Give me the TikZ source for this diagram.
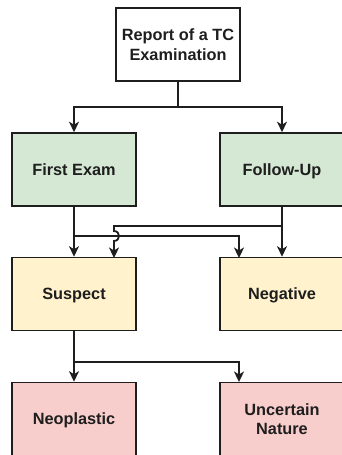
\documentclass[tikz,border=0pt]{standalone}
\usepackage{fontspec}
\setmainfont{Liberation Sans}
\usetikzlibrary{arrows.meta}
\definecolor{stepgreen}{HTML}{D5E8D4}
\definecolor{stepyellow}{HTML}{FFF2CC}
\definecolor{stepred}{HTML}{F8CECC}
\definecolor{ink}{HTML}{1E1E1E}
\begin{document}
\begin{tikzpicture}[x=1pt,y=-1pt,
  box/.style={draw=ink, line width=1.6pt, minimum width=124pt, minimum height=73pt,
    inner sep=0pt, align=center, text=ink,
    font=\fontsize{16.3}{19.5}\selectfont\bfseries},
  oneline/.style={text height=11.7pt, text depth=0pt},
  conn/.style={draw=ink, line width=1.8pt, -{Stealth[length=10.5pt,width=10pt,inset=3pt]}},
  plain/.style={draw=ink, line width=1.8pt}]
\useasboundingbox (0,0) rectangle (342,455);
% boxes
\node[box, fill=white]               (top) at (178,44.5)  {Report of a TC\\Examination};
\node[box, oneline, fill=stepgreen]  (fe)  at (74,169.5)  {First Exam};
\node[box, oneline, fill=stepgreen]  (fu)  at (282,169.5) {Follow-Up};
\node[box, oneline, fill=stepyellow] (sus) at (74,294)    {Suspect};
\node[box, oneline, fill=stepyellow] (neg) at (282,294)   {Negative};
\node[box, oneline, fill=stepred]    (neo) at (74,419)    {Neoplastic};
\node[box, fill=stepred]             (unc) at (282,419)   {Uncertain\\Nature};
% junction and entry points
\coordinate (split)  at (178,107);
\coordinate (negin)  at (239,258);
\coordinate (susin)  at (114,258);
\coordinate (uncin)  at (239,382);
\coordinate (hopa)   at (114,231);
\coordinate (hopb)   at (114,241);
% report splits into first exam and follow-up
\draw[plain] (top.south) -- (split);
\draw[conn] (split) -| (fe.north);
\draw[conn] (split) -| (fu.north);
% first exam leads to suspect or negative
\draw[conn] (fe.south) -- (sus.north);
\draw[conn] (fe.south) |- (74,236) -| (negin);
% follow-up leads to negative or suspect, hopping over the crossing line
\draw[conn] (fu.south) -- (neg.north);
\draw[conn] (fu.south) |- (114,226) -- (hopa)
  .. controls (120.7,231) and (120.7,241) .. (hopb) -- (susin);
% suspect leads to neoplastic or uncertain nature
\draw[conn] (sus.south) -- (neo.north);
\draw[conn] (sus.south) |- (74,362) -| (uncin);
\end{tikzpicture}
\end{document}
